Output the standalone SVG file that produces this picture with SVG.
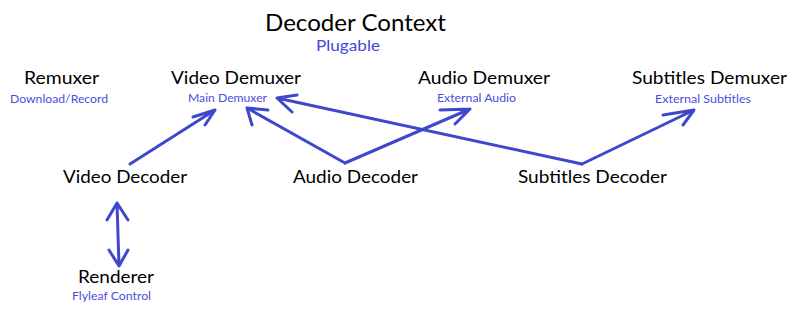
<svg xmlns="http://www.w3.org/2000/svg" width="800" height="313" viewBox="0 0 800 313">
<style>
text{font-family:"Lato","Open Sans","Liberation Sans",sans-serif}
.t{font-size:17px;fill:#000}
.s{font-size:12px;fill:#4d4ddd}
.ttl{font-size:23px;fill:#000}
.pl{font-size:16px;fill:#4848d8}
.c{fill:none;stroke:#3f48cc;stroke-width:3;stroke-linecap:round;stroke-linejoin:round}
</style>
<rect width="800" height="313" fill="#fff"/>
<g id="title">
<text class="ttl" x="265" y="31" textLength="181" lengthAdjust="spacingAndGlyphs">Decoder Context</text>
<text class="pl" x="316" y="51" textLength="64" lengthAdjust="spacingAndGlyphs">Plugable</text>
</g>
<g id="remuxer">
<text class="t" x="24" y="84" textLength="75" lengthAdjust="spacingAndGlyphs">Remuxer</text>
<text class="s" x="10" y="103" textLength="98" lengthAdjust="spacingAndGlyphs">Download/Record</text>
</g>
<g id="video-demuxer">
<text class="t" x="171" y="84" textLength="130" lengthAdjust="spacingAndGlyphs">Video Demuxer</text>
<text class="s" x="188" y="102" textLength="79" lengthAdjust="spacingAndGlyphs">Main Demuxer</text>
</g>
<g id="audio-demuxer">
<text class="t" x="418" y="84" textLength="132" lengthAdjust="spacingAndGlyphs">Audio Demuxer</text>
<text class="s" x="437" y="102" textLength="79" lengthAdjust="spacingAndGlyphs">External Audio</text>
</g>
<g id="subtitles-demuxer">
<text class="t" x="632" y="84" textLength="155" lengthAdjust="spacingAndGlyphs">Subtitles Demuxer</text>
<text class="s" x="655" y="103" textLength="96" lengthAdjust="spacingAndGlyphs">External Subtitles</text>
</g>
<g id="video-decoder">
<text class="t" x="63" y="183" textLength="124" lengthAdjust="spacingAndGlyphs">Video Decoder</text>
</g>
<g id="audio-decoder">
<text class="t" x="293" y="183" textLength="125" lengthAdjust="spacingAndGlyphs">Audio Decoder</text>
</g>
<g id="subtitles-decoder">
<text class="t" x="518" y="183" textLength="149" lengthAdjust="spacingAndGlyphs">Subtitles Decoder</text>
</g>
<g id="renderer">
<text class="t" x="78" y="283" textLength="76" lengthAdjust="spacingAndGlyphs">Renderer</text>
<text class="s" x="72" y="300" textLength="79" lengthAdjust="spacingAndGlyphs">Flyleaf Control</text>
</g>
<g id="connectors">
<path class="c" d="M130,164 L215,110 M193,117 L215,110 L205,125"/>
<path class="c" d="M345,163 L247,108 M268,110 L247,108 L252,125"/>
<path class="c" d="M582,164 L277,98 M297,95 L277,98 L292,112"/>
<path class="c" d="M345,163 L470,109 M440,110 L470,109 L455,124"/>
<path class="c" d="M582,164 L694,110 M663,115 L694,110 L683,125"/>
<path class="c" d="M117,203 L119,266 M107,220 L117,203 L128,220 M109,250 L119,266 L128,250"/>
</g>
</svg>
